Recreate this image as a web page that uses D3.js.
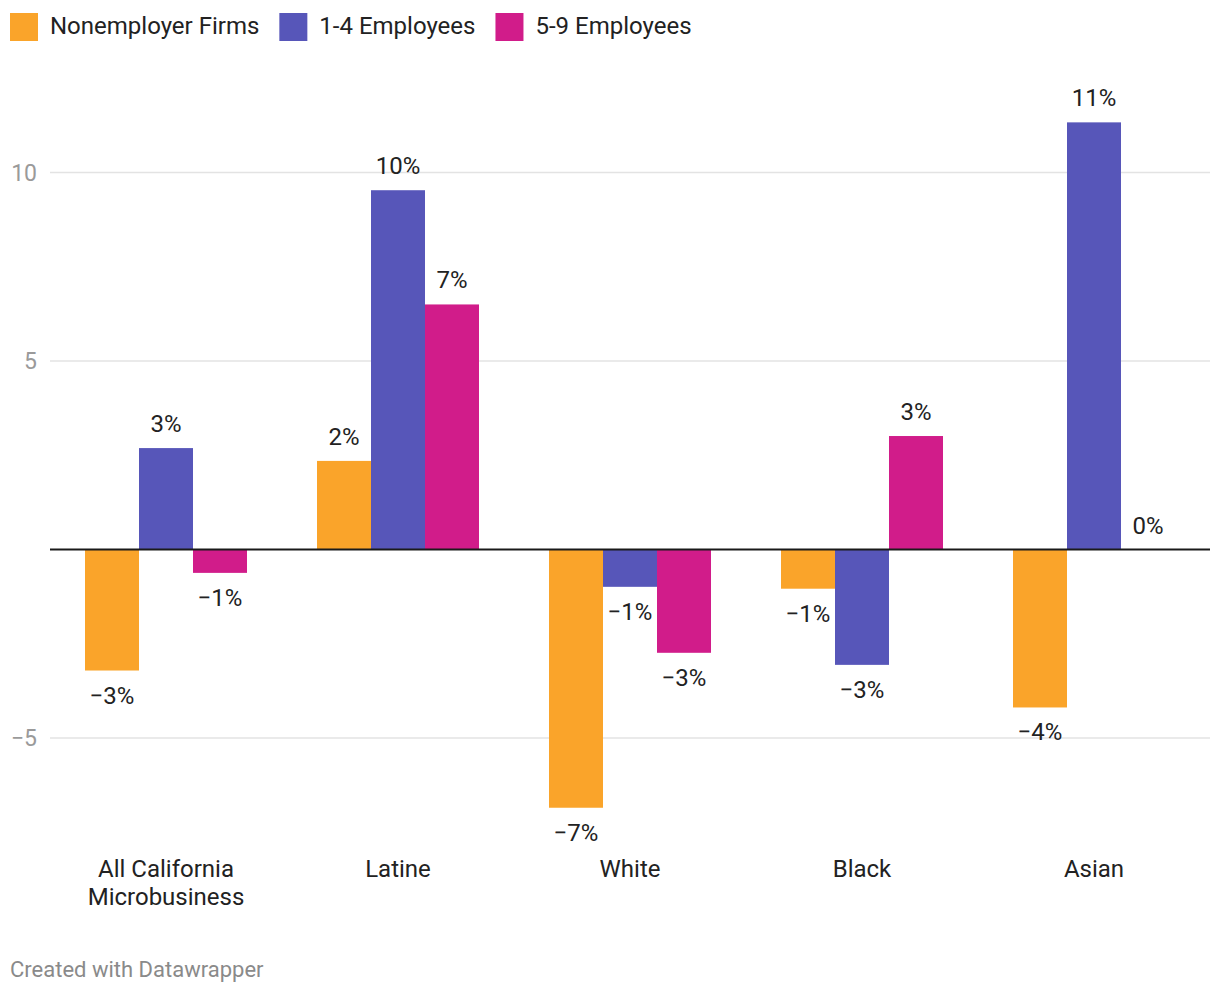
<!DOCTYPE html>
<html>
<head>
<meta charset="utf-8">
<script src="https://cdn.jsdelivr.net/npm/d3@7"></script>
<style>
  html, body { margin: 0; padding: 0; background: #fff; }
  svg { display: block; font-family: Roboto, "Noto Sans", sans-serif; }
</style>
</head>
<body>
<svg id="chart" width="1220" height="994"></svg>
<script>
const categories = [["All California", "Microbusiness"], ["Latine"], ["White"], ["Black"], ["Asian"]];
const seriesNames = ["Nonemployer Firms", "1-4 Employees", "5-9 Employees"];
const nonemployer = [-3.21, 2.35, -6.85, -1.04, -4.19];
const emp1to4 = [2.69, 9.53, -0.99, -3.06, 11.33];
const emp5to9 = [-0.62, 6.5, -2.74, 3.01, 0];
const yTicks = [-5, 5, 10];
const colors = ["#faa42a", "#5756b9", "#d11c8a"];

const seriesValues = [nonemployer, emp1to4, emp5to9];
const svg = d3.select("#chart");

const x0 = d3.scaleBand().domain(d3.range(categories.length)).range([50, 1210]).paddingInner(70/232).paddingOuter(35/232);
const x1 = d3.scaleBand().domain(d3.range(seriesNames.length)).range([0, x0.bandwidth()]).padding(0);
const y = d3.scaleLinear().domain([-7.5, 12.5]).range([832.25, 78.25]);

// legend
let lx = 10;
const legend = svg.append("g");
seriesNames.forEach((name, i) => {
  legend.append("rect").attr("x", lx).attr("y", 13).attr("width", 28).attr("height", 28).attr("fill", colors[i]);
  const t = legend.append("text").attr("x", lx + 40).attr("y", 34).attr("font-size", 24).attr("fill", "#222").text(name);
  const w = t.node().getComputedTextLength();
  lx += 40 + w + 20;
});

// gridlines
const grid = svg.append("g");
yTicks.forEach(v => {
  grid.append("line").attr("x1", 50).attr("x2", 1210).attr("y1", y(v)).attr("y2", y(v))
    .attr("stroke", "#e3e3e3").attr("stroke-width", 1.5);
  grid.append("text").attr("x", 37).attr("y", y(v)).attr("dy", "0.36em").attr("text-anchor", "end")
    .attr("font-size", 23).attr("fill", "#9a9a9a").text(d3.format("")(v).replace("-", "\u2212"));
});

// bars
const data = [];
categories.forEach((c, ci) => seriesValues.forEach((vals, si) => data.push({ci, si, v: vals[ci]})));

svg.append("g").selectAll("rect").data(data.filter(d => d.v !== 0)).join("rect")
  .attr("x", d => x0(d.ci) + x1(d.si))
  .attr("width", x1.bandwidth())
  .attr("y", d => y(Math.max(0, d.v)))
  .attr("height", d => Math.abs(y(d.v) - y(0)))
  .attr("fill", d => colors[d.si]);

// zero line
svg.append("line").attr("x1", 50).attr("x2", 1210).attr("y1", y(0)).attr("y2", y(0))
  .attr("stroke", "#1a1a1a").attr("stroke-width", 2);

// value labels
svg.append("g").selectAll("text").data(data).join("text")
  .attr("x", d => x0(d.ci) + x1(d.si) + x1.bandwidth() / 2)
  .attr("y", d => d.v >= 0 ? y(d.v) - 16 : y(d.v) + 33)
  .attr("text-anchor", "middle")
  .attr("font-size", 24)
  .attr("fill", "#222")
  .text(d => d3.format(".0f")(d.v).replace("-", "\u2212") + "%");

// category labels
const cat = svg.append("g");
categories.forEach((lines, ci) => {
  const t = cat.append("text").attr("x", x0(ci) + x0.bandwidth() / 2).attr("y", 877)
    .attr("text-anchor", "middle").attr("font-size", 24).attr("fill", "#222");
  lines.forEach((ln, li) => t.append("tspan").attr("x", x0(ci) + x0.bandwidth() / 2).attr("dy", li === 0 ? 0 : 28).text(ln));
});

// footer
svg.append("text").attr("x", 10).attr("y", 977).attr("font-size", 22).attr("fill", "#8a8a8a").text("Created with Datawrapper");
</script>
</body>
</html>
